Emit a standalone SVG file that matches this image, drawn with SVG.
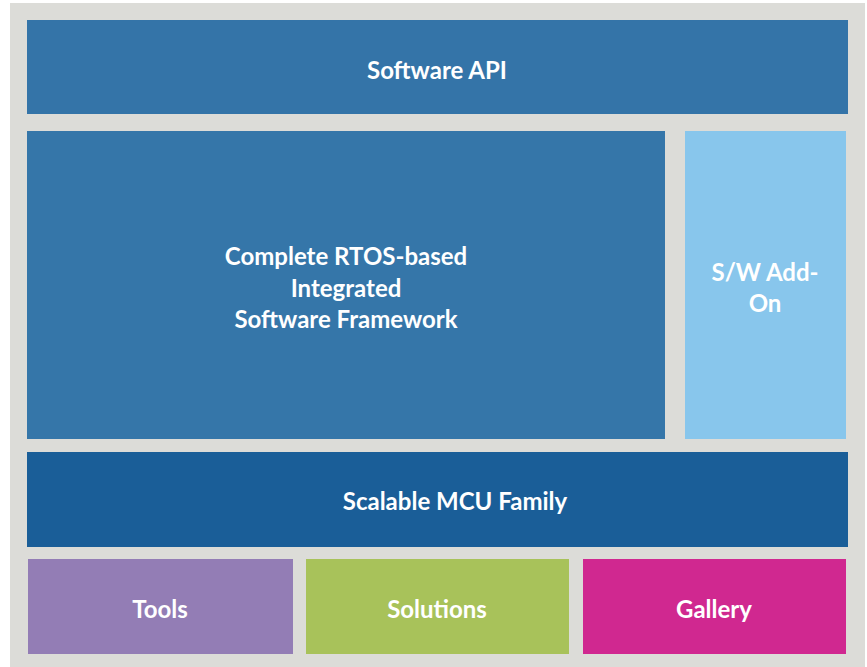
<svg xmlns="http://www.w3.org/2000/svg" width="867" height="667" viewBox="0 0 867 667">
<style>
.t{font-family:Lato,"Open Sans","Liberation Sans",sans-serif;font-weight:bold;font-size:24px;fill:#ffffff;text-anchor:middle}
</style>
<rect x="0" y="0" width="867" height="667" fill="#ffffff"/>
<rect x="10" y="3" width="855" height="664" fill="#dcdcd8"/>
<g id="api"><rect x="27" y="20" width="821" height="94" fill="#3474a8"/><text class="t" x="437" y="79">Software API</text></g>
<g id="framework"><rect x="27" y="131" width="638" height="308" fill="#3576a9"/><text class="t" x="346" y="265">Complete RTOS-based</text><text class="t" x="346" y="297">Integrated</text><text class="t" x="346" y="328">Software Framework</text></g>
<g id="addon"><rect x="685" y="131" width="161" height="308" fill="#88c6ec"/><text class="t" x="765" y="281">S/W Add-</text><text class="t" x="765" y="312">On</text></g>
<g id="mcu"><rect x="27" y="452" width="821" height="95" fill="#1a5e98"/><text class="t" x="455" y="510">Scalable MCU Family</text></g>
<g id="tools"><rect x="28" y="559" width="265" height="95" fill="#937db5"/><text class="t" x="160" y="618">Tools</text></g>
<g id="solutions"><rect x="306" y="559" width="263" height="95" fill="#a8c25a"/><text class="t" x="437" y="618">Solutions</text></g>
<g id="gallery"><rect x="583" y="559" width="263" height="95" fill="#d02890"/><text class="t" x="714" y="618">Gallery</text></g>
<g id="connectors"></g>
</svg>
